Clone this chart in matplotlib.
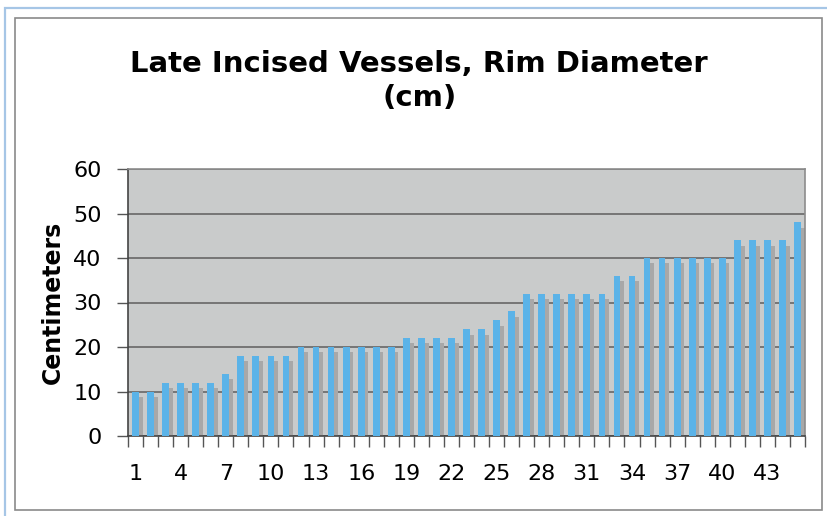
import matplotlib
matplotlib.use("Agg")
import matplotlib.pyplot as plt
from matplotlib.patches import Rectangle
import numpy as np

# Rim diameters (cm) of late incised vessels, sorted ascending
vessel_ids = list(range(1, 46))
rim_diameter = [10, 10, 12, 12, 12, 12, 14, 18, 18, 18, 18,
                20, 20, 20, 20, 20, 20, 20, 22, 22, 22, 22,
                24, 24, 26, 28, 32, 32, 32, 32, 32, 32, 36, 36,
                40, 40, 40, 40, 40, 40, 44, 44, 44, 44, 48]
xtick_labels = [str(v) for v in range(1, 46, 3)]
ytick_values = [0, 10, 20, 30, 40, 50, 60]

title = "Late Incised Vessels, Rim Diameter\n(cm)"
ylabel = "Centimeters"

BLUE = "#5BB3E8"
SHADOW = "#A8A8A8"
PLOT_BG = "#C9CBCB"
GRID = "#5E5E5E"

W, H = 827, 516
fig = plt.figure(figsize=(W / 100, H / 100), dpi=100)
fig.patch.set_facecolor("white")

# Outer window line and inner chart frame
fig.add_artist(Rectangle((5 / W, -0.1), 1.2, 1 - 8 / H + 0.1, transform=fig.transFigure,
                         fill=False, edgecolor="#A6C6E6", linewidth=1.6))
fig.add_artist(Rectangle((15 / W, 1 - 510 / H), (822 - 15) / W, (510 - 18) / H,
                         transform=fig.transFigure, fill=False,
                         edgecolor="#8A8A8A", linewidth=1.2))

left, right, top, bottom = 128, 805, 169, 436
ax = fig.add_axes([left / W, 1 - bottom / H, (right - left) / W, (bottom - top) / H])
ax.set_facecolor(PLOT_BG)

x = np.array(vessel_ids, dtype=float)
vals = np.array(rim_diameter, dtype=float)

# Grey depth shadow behind each bar, then the blue bar itself
ax.bar(x + 0.24, vals - 1.2, width=0.48, color=SHADOW, zorder=2, linewidth=0)
ax.bar(x, vals, width=0.45, color=BLUE, zorder=3, linewidth=0)

ax.set_xlim(0.5, 45.5)
ax.set_ylim(0, 60)
ax.set_yticks(ytick_values)
ax.yaxis.grid(True, color=GRID, linewidth=1.1, zorder=1)
ax.set_axisbelow(True)

# Category labels every third vessel; tick marks on category boundaries
ax.set_xticks(range(1, 46, 3))
ax.set_xticklabels(xtick_labels)
ax.set_xticks(np.arange(0.5, 46, 1.0), minor=True)
ax.tick_params(axis="x", which="major", length=0, pad=20, labelsize=16)
ax.tick_params(axis="x", which="minor", length=8, width=1, color="#555555", direction="out")
ax.tick_params(axis="y", length=8, width=1, color="#555555", pad=11, labelsize=16)

for side in ("top", "right"):
    ax.spines[side].set_color("#8C8C8C")
    ax.spines[side].set_linewidth(1.2)
for side in ("left", "bottom"):
    ax.spines[side].set_color("#444444")
    ax.spines[side].set_linewidth(1.2)

ax.set_ylabel(ylabel, fontsize=17, fontweight="bold", labelpad=6)

fig.text(0.507, 1 - 81 / H, title, ha="center", va="center", fontsize=21,
         fontweight="bold", linespacing=1.3)

fig.savefig("out.png", dpi=100)
